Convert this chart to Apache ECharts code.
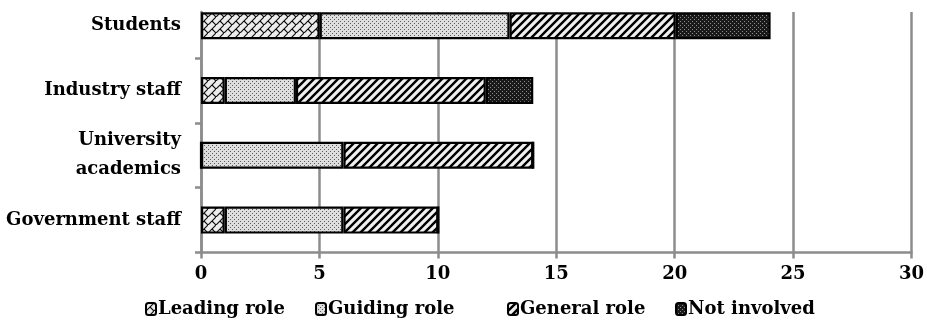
<!DOCTYPE html>
<html>
<head>
<meta charset="utf-8">
<script src="https://cdn.jsdelivr.net/npm/echarts@6/dist/echarts.min.js"></script>
<style>
html,body{margin:0;padding:0;background:#fff;overflow:hidden;width:927px;height:323px;}
#chart{position:absolute;left:0;top:-7px;width:927px;height:330px;}
</style>
</head>
<body>
<div id="chart"></div>
<script>
const categories = ['Students', 'Industry staff', 'University\nacademics', 'Government staff'];
const seriesNames = ['Leading role', 'Guiding role', 'General role', 'Not involved'];
const leadingRole = [5, 1, 0, 1];
const guidingRole = [8, 3, 6, 5];
const generalRole = [7, 8, 8, 4];
const notInvolved = [4, 2, 0, 0];
const xTicks = { min: 0, max: 30, interval: 5 };

function tile(w, h, draw) {
  const c = document.createElement('canvas');
  c.width = w; c.height = h;
  const ctx = c.getContext('2d');
  draw(ctx, w, h);
  return { image: c, repeat: 'repeat' };
}
const patLeading = tile(8, 8, (ctx) => {
  ctx.fillStyle = '#ececec'; ctx.fillRect(0, 0, 8, 8);
  ctx.strokeStyle = '#111'; ctx.lineWidth = 1.2;
  ctx.beginPath();
  ctx.moveTo(-1, 9); ctx.lineTo(9, -1);
  ctx.moveTo(4, 4); ctx.lineTo(8, 8);
  ctx.stroke();
});
const patGuiding = tile(4, 4, (ctx) => {
  ctx.fillStyle = '#dedede'; ctx.fillRect(0, 0, 4, 4);
  ctx.fillStyle = '#5a5a5a';
  ctx.fillRect(0, 0, 1, 1); ctx.fillRect(2, 2, 1, 1);
});
const patGeneral = tile(8, 8, (ctx) => {
  ctx.fillStyle = '#f0f0f0'; ctx.fillRect(0, 0, 8, 8);
  ctx.strokeStyle = '#000'; ctx.lineWidth = 2.4;
  ctx.beginPath();
  ctx.moveTo(-1, 9); ctx.lineTo(9, -1);
  ctx.moveTo(-2, 2); ctx.lineTo(2, -2);
  ctx.moveTo(6, 10); ctx.lineTo(10, 6);
  ctx.stroke();
});
const patNot = tile(4, 4, (ctx) => {
  ctx.fillStyle = '#1a1a1a'; ctx.fillRect(0, 0, 4, 4);
  ctx.fillStyle = '#8a8a8a';
  ctx.fillRect(0, 0, 1, 1); ctx.fillRect(2, 2, 1, 1);
});
const patterns = [patLeading, patGuiding, patGeneral, patNot];
const values = [leadingRole, guidingRole, generalRole, notInvolved];

const FONT = 'DejaVu Serif';
const GRID_LINE = '#8c8c8c';

const chart = echarts.init(document.getElementById('chart'), null, { renderer: 'canvas' });

const legendLefts = [145, 315, 507, 675];

const option = {
  animation: false,
  backgroundColor: '#fff',
  grid: [
    { left: 201, right: 14, top: 19, bottom: 70.5 },
    { left: 201, right: 14, top: 0.3, bottom: 70.5 }
  ],
  xAxis: [
    {
      gridIndex: 0, type: 'value', min: xTicks.min, max: xTicks.max, interval: xTicks.interval,
      axisLine: { show: true, lineStyle: { color: GRID_LINE, width: 2.5 } },
      axisTick: { show: true, length: 6, lineStyle: { color: GRID_LINE, width: 2.5 } },
      splitLine: { show: true, lineStyle: { color: GRID_LINE, width: 2.5 } },
      axisLabel: { color: '#000', fontFamily: FONT, fontSize: 18, fontWeight: 'bold', margin: 13 }
    },
    {
      gridIndex: 1, type: 'value', min: xTicks.min, max: xTicks.max, interval: xTicks.interval,
      show: false
    }
  ],
  yAxis: [
    {
      gridIndex: 0, type: 'value',
      axisLine: { show: true, lineStyle: { color: GRID_LINE, width: 2.5 } },
      axisTick: { show: false }, axisLabel: { show: false }, splitLine: { show: false }
    },
    {
      gridIndex: 1, type: 'category', data: categories, inverse: true,
      axisLine: { show: false },
      axisTick: { show: true, length: 6, lineStyle: { color: GRID_LINE, width: 2.5 } },
      splitLine: { show: false },
      axisLabel: { color: '#000', fontFamily: FONT, fontSize: 18, fontWeight: 'bold', margin: 20, align: 'right', lineHeight: 29 }
    }
  ],
  legend: seriesNames.map((n, i) => ({
    data: [n], left: legendLefts[i], top: 307,
    itemWidth: 10, itemHeight: 12, itemGap: 5, padding: 0,
    textStyle: { color: '#000', fontFamily: FONT, fontSize: 18, fontWeight: 'bold', padding: [0, 0, 0, -3] }
  })),
  series: seriesNames.map((n, i) => ({
    name: n, type: 'bar', stack: 'total',
    xAxisIndex: 1, yAxisIndex: 1,
    barWidth: 27,
    data: values[i],
    itemStyle: { color: patterns[i], borderColor: '#000', borderWidth: 2.2 },
    emphasis: { disabled: true }
  }))
};
chart.setOption(option);
</script>
</body>
</html>
